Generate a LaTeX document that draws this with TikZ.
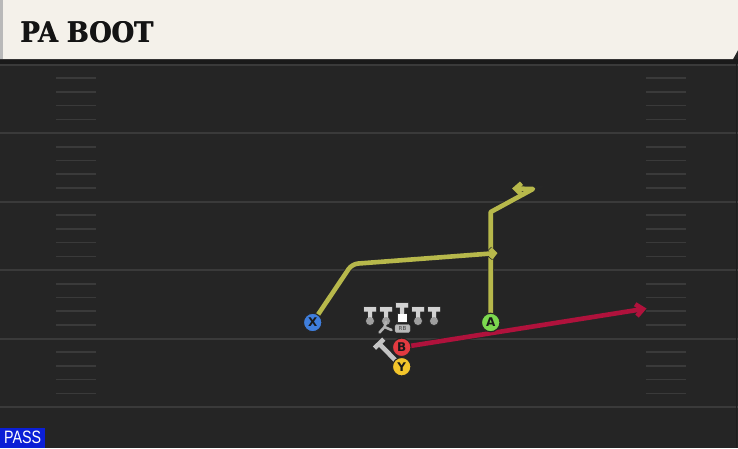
\documentclass[tikz,border=0pt]{standalone}
\usepackage{fontspec}
\usepackage{graphicx}
\usetikzlibrary{arrows.meta}
\newfontfamily\titlefont{DejaVu Serif}
\newfontfamily\lsans{Liberation Sans}
\newfontfamily\dsans{DejaVu Sans}
\definecolor{field}{HTML}{252525}
\definecolor{fline}{HTML}{3A3A3A}
\definecolor{hashc}{HTML}{3A3A3A}
\definecolor{hdr}{HTML}{F4F1EA}
\definecolor{routeY}{HTML}{B7B84B}
\definecolor{routeR}{HTML}{B0123C}
\definecolor{blockG}{HTML}{C4C4C4}
\definecolor{pX}{HTML}{3F7EDC}
\definecolor{pA}{HTML}{7CD84F}
\definecolor{pB}{HTML}{E23A40}
\definecolor{pY}{HTML}{F3C52B}
\definecolor{passblue}{HTML}{0B1FD6}
\definecolor{lmgray}{HTML}{D2D2D2}
\pgfdeclarelayer{bg}
\pgfdeclarelayer{rt}
\pgfsetlayers{bg,rt,main}
\tikzset{
  player/.style={circle, minimum size=18.5pt, inner sep=0pt, draw=black!85, line width=1.1pt,
    font=\dsans\bfseries\fontsize{12}{12}\selectfont, text=black!90},
  route/.style={line width=4.6pt, line join=round, preaction={draw=black!85, line width=6.2pt}},
  yroute/.style={route, draw=routeY},
  rroute/.style={route, draw=routeR},
  groute/.style={route, draw=blockG},
  fieldline/.style={draw=fline, line width=2pt},
  hashline/.style={draw=hashc, line width=1.6pt},
}
\begin{document}
\begin{tikzpicture}[x=1pt,y=-1pt]
\useasboundingbox (0,0) rectangle (738,448);
% players
\node[player, fill=pX] (X) at (312.7,322.5) {X};
\node[player, fill=pA] (A) at (490.7,322.5) {A};
\node[player, fill=pB] (B) at (401.7,347.3) {B};
\node[player, fill=pY] (Y) at (401.7,366.7) {Y};
% RB badge
\node[draw=gray!80, fill=gray!55, rounded corners=1.5pt, inner sep=0.8pt, minimum width=15pt, minimum height=8pt,
  font=\dsans\fontsize{5.5}{5.5}\selectfont, text=black!75] (rb) at (402.5,328.5) {RB};
% PASS label
\node[fill=passblue, anchor=south west, minimum width=45pt, minimum height=20pt, inner sep=0pt, text=white] (pass) at (0,448) {\resizebox{37pt}{12.5pt}{\lsans PASS}};
\begin{pgfonlayer}{bg}
\fill[field] (0,0) rectangle (738,448);
\fill[black!30!field] (0,59) rectangle (738,63.5);
\foreach \k in {0,...,5} {
  \draw[fieldline] (0,64.5+68.5*\k) -- (738,64.5+68.5*\k);
}
\foreach \k in {0,...,4} {
  \foreach \j in {1,...,4} {
    \draw[hashline] (56,64.5+68.5*\k+13.7*\j) -- (96,64.5+68.5*\k+13.7*\j);
    \draw[hashline] (646,64.5+68.5*\k+13.7*\j) -- (686,64.5+68.5*\k+13.7*\j);
  }
}
\draw[draw=black!20!field, line width=1.5pt] (736.5,64) -- (736.5,448);
% header
\fill[hdr] (0,0) -- (738,0) -- (738,50) -- (733,59) -- (0,59) -- cycle;
\fill[gray!55] (0,0) rectangle (2.5,59);
\node[anchor=base west, inner sep=0pt, text=black!92] (title) at (20,42.5)
  {\resizebox{133pt}{21pt}{\titlefont\bfseries PA BOOT}};
\node[anchor=base west, inner sep=0pt, text=black!92] at (20.6,42.5)
  {\resizebox{133pt}{21pt}{\titlefont\bfseries PA BOOT}};
% linemen
\foreach \x in {370,386,418,434} {
  \fill[black!80, draw=black!80, line width=1.4pt] (\x-6,307) rectangle (\x+6,311.5) (\x-2,311) rectangle (\x+2,320) (\x,321) circle (4pt);
  \fill[lmgray] (\x-6,307) rectangle (\x+6,311.5) (\x-2,311) rectangle (\x+2,320);
  \fill[gray!75] (\x,321) circle (4pt);
}
\fill[black!80, draw=black!80, line width=1.4pt] (396,303) rectangle (408,307.5) (400,307) rectangle (404,314) (397.5,313.5) rectangle (406.5,322);
\fill[lmgray] (396,303) rectangle (408,307.5) (400,307) rectangle (404,314);
\fill[white] (397.5,313.5) rectangle (406.5,322);
\draw[lmgray!85!black, line width=2.6pt, line cap=round] (386,322) -- (384.5,327) -- (379.5,332.5) (384.5,327) -- (391.5,330);
\end{pgfonlayer}
% coordinates
\coordinate (xc) at (352,264);
\coordinate (xe) at (497.5,253);
\coordinate (a1) at (490.7,212);
\coordinate (a2) at (533,189);
\coordinate (a3) at (512,188.5);
\coordinate (be) at (646.5,308.5);
\coordinate (ye) at (377.5,342);
\begin{pgfonlayer}{rt}
\draw[groute, -{Bar[width=13pt]}] (Y.center) -- (ye);
\draw[yroute, -{Straight Barb[length=6pt,width=11pt]}] (A.center) -- (a1) -- (a2) -- (a3);
\draw[yroute, rounded corners=6pt, -{Straight Barb[length=4pt,width=9pt]}] (X.center) -- (xc) -- (xe);
\draw[rroute, -{Straight Barb[length=7pt,width=12pt]}] (B.center) -- (be);
\end{pgfonlayer}
\end{tikzpicture}
\end{document}
